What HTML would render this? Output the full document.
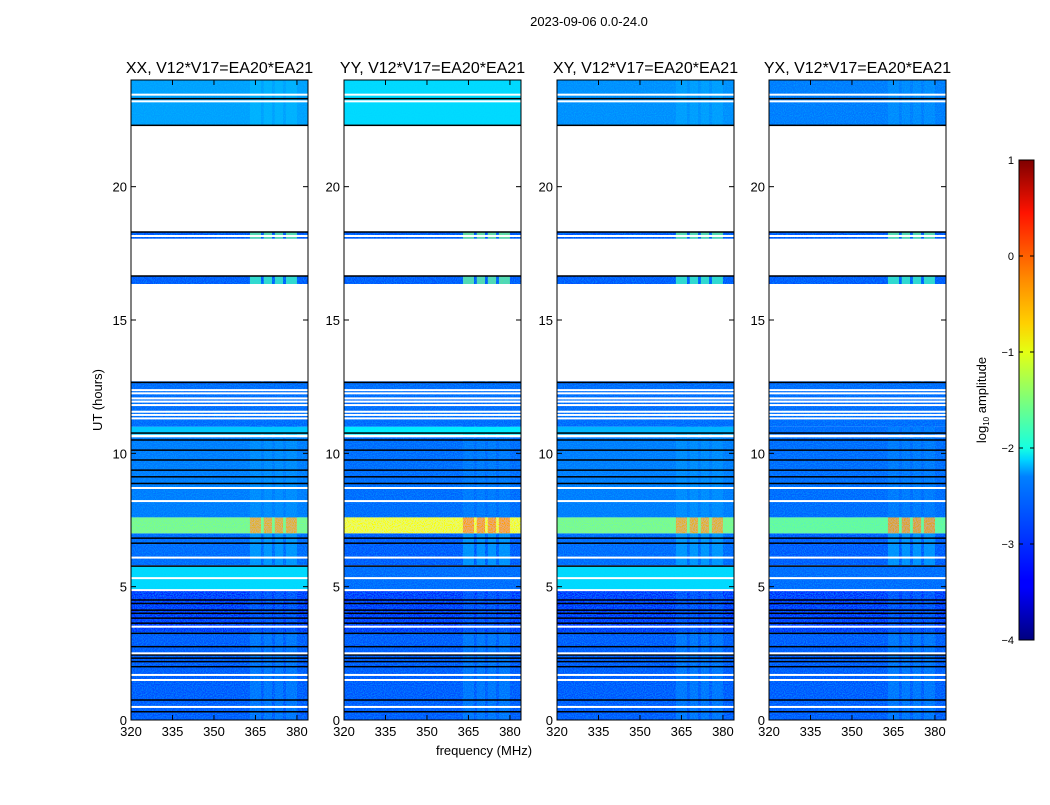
<!DOCTYPE html>
<html><head><meta charset="utf-8"><style>
body{margin:0;background:#fff;}
svg text{font-family:"Liberation Sans","DejaVu Sans",sans-serif;fill:#000;}
</style></head><body>
<svg id="fig" width="1050" height="800" xmlns="http://www.w3.org/2000/svg">
<defs>
<linearGradient id="jet" x1="0" y1="1" x2="0" y2="0">
<stop offset="0" stop-color="#00007f"/><stop offset="0.11" stop-color="#0000ff"/><stop offset="0.125" stop-color="#0000ff"/>
<stop offset="0.34" stop-color="#0080ff"/><stop offset="0.375" stop-color="#00d4ff"/><stop offset="0.4" stop-color="#16ffe1"/>
<stop offset="0.5" stop-color="#7dff7a"/><stop offset="0.6" stop-color="#e4ff13"/><stop offset="0.66" stop-color="#ffd000"/>
<stop offset="0.75" stop-color="#ff8c00"/><stop offset="0.89" stop-color="#ff1300"/><stop offset="1" stop-color="#7f0000"/>
</linearGradient>
<filter id="noise" x="0" y="0" width="100%" height="100%">
<feTurbulence type="fractalNoise" baseFrequency="0.9" numOctaves="1" seed="3" result="t"/>
<feColorMatrix in="t" type="matrix" values="0 0 0 0 0  0 0 0 0 0.6  0 0 0 0 1  0 0 0 0.9 -0.35" result="n"/>
<feComposite in="n" in2="SourceGraphic" operator="in" result="m"/>
<feMerge><feMergeNode in="SourceGraphic"/><feMergeNode in="m"/></feMerge>
</filter>
</defs>
<text x="589" y="26" font-size="13" text-anchor="middle">2023-09-06 0.0-24.0</text>
<text x="484" y="755" font-size="13" text-anchor="middle">frequency (MHz)</text>
<text transform="translate(102,400) rotate(-90)" font-size="13" text-anchor="middle">UT (hours)</text>
<g id="panels"></g>
<g id="cbar"></g>
</svg>
<script>
// ---- data ----
const panelTitles = ["XX, V12*V17=EA20*EA21","YY, V12*V17=EA20*EA21","XY, V12*V17=EA20*EA21","YX, V12*V17=EA20*EA21"];
const segStart = [0, 3.3, 4.9, 5.8, 7.0, 7.6, 10.7, 11.0, 16.35, 18.05, 22.3];
const segEnd   = [3.3, 4.9, 5.75, 7.0, 7.6, 10.6, 11.0, 12.7, 16.65, 18.3, 24];
const levelsXX = [-3.0, -3.2, -2.3, -2.9, -1.5, -2.8, -2.4, -2.9, -3.0, -3.0, -2.6];
const levelsYY = [-3.0, -3.2, -2.9, -3.0, -0.9, -2.9, -2.2, -2.9, -3.0, -3.0, -2.3];
const levelsXY = [-3.0, -3.2, -2.3, -2.9, -1.5, -2.8, -2.5, -2.9, -3.0, -3.0, -2.7];
const levelsYX = [-3.0, -3.2, -2.9, -3.0, -1.6, -2.9, -2.9, -2.9, -3.0, -3.0, -2.8];
const rfiStart = [363, 368, 372, 376];
const rfiEnd   = [367, 371, 375, 380];
const rfiLevelXX = [-2.8, -3.0, -2.3, -2.6, -0.4, -2.7, -2.4, -2.9, -1.8, -1.6, -2.5];
const rfiLevelYY = [-2.8, -3.0, -2.9, -2.6, -0.3, -2.8, -2.2, -2.9, -1.6, -1.5, -2.3];
const rfiLevelXY = [-2.8, -3.0, -2.3, -2.6, -0.4, -2.7, -2.5, -2.9, -1.8, -1.6, -2.6];
const rfiLevelYX = [-2.8, -3.0, -2.9, -2.6, -0.3, -2.8, -2.8, -2.9, -1.8, -1.6, -2.7];
const blackLines = [12.66,10.76,10.5,10.12,9.75,9.37,9.12,8.87,6.82,6.63,5.77,4.5,4.37,4.12,4.0,3.82,3.63,3.25,2.75,2.44,2.32,2.19,2.0,0.75,0.31,23.3,18.3,16.65,22.3];
const whiteLines = [12.37,12.25,12.06,11.94,11.81,11.56,11.44,11.31,8.7,8.21,6.09,5.32,4.87,3.5,2.5,1.69,1.5,0.49,23.2,23.45,18.15];
const xTicks = [320,335,350,365,380];
const yTicks = [0,5,10,15,20];
const cbTicks = [-4,-3,-2,-1,0,1];
// ---- layout ----
const lefts=[131,344,557,769], W=177, T=80, B=720;
const fMin=320, fMax=384, hMin=0, hMax=24;
const NS="http://www.w3.org/2000/svg";
function el(t,a,p){const e=document.createElementNS(NS,t);for(const k in a)e.setAttribute(k,a[k]);p.appendChild(e);return e;}
function jet(v){
  let x=Math.max(0,Math.min(1,(v+4)/5));
  const r=Math.min(4*x-1.5,-4*x+4.5), g=Math.min(4*x-0.5,-4*x+3.5), b=Math.min(4*x+0.5,-4*x+2.5);
  const c=z=>Math.round(255*Math.max(0,Math.min(1,z)));
  return `rgb(${c(r)},${c(g)},${c(b)})`;
}
const levelSets=[levelsXX,levelsYY,levelsXY,levelsYX];
const rfiSets=[rfiLevelXX,rfiLevelYY,rfiLevelXY,rfiLevelYX];
const panels=document.getElementById('panels');
lefts.forEach((L,p)=>{
  const xs=f=>L+(f-fMin)/(fMax-fMin)*W;
  const ys=h=>B-(h-hMin)/(hMax-hMin)*(B-T);
  const g=el('g',{},panels);
  
  
  const img=el('g',{filter:'url(#noise)'},g);
  segStart.forEach((s,i)=>{
    const r=el('rect',{x:L,y:ys(segEnd[i]),width:W,height:ys(s)-ys(segEnd[i]),fill:jet(levelSets[p][i])},img);
    
    
    rfiStart.forEach((f,k)=>{
      const q=el('rect',{x:xs(f),y:ys(segEnd[i]),width:xs(rfiEnd[k])-xs(f),height:ys(s)-ys(segEnd[i]),fill:jet(rfiSets[p][i]),opacity:0.8},img);
      
      
    });
  });
  blackLines.forEach(h=>{const l=el('rect',{x:L,y:ys(h)-0.75,width:W,height:1.5,fill:'#000'},g);
    
    });
  whiteLines.forEach(h=>{const l=el('rect',{x:L,y:ys(h)-1,width:W,height:2,fill:'#fff'},g);
    
    });
  const fr=el('rect',{x:L,y:T,width:W,height:B-T,fill:'none',stroke:'#000','stroke-width':1},g);
  
  
  const tt=el('text',{x:L+W/2,y:T-7,'font-size':16,'text-anchor':'middle'},g);tt.textContent=panelTitles[p];
  
  
  xTicks.forEach(f=>{
    el('line',{x1:xs(f),x2:xs(f),y1:B,y2:B-5,stroke:'#000'},g);
    el('line',{x1:xs(f),x2:xs(f),y1:T,y2:T+5,stroke:'#000'},g);
    const t=el('text',{x:xs(f),y:B+16,'font-size':13,'text-anchor':'middle'},g);t.textContent=f;
    
    
  });
  yTicks.forEach(h=>{
    el('line',{x1:L,x2:L+5,y1:ys(h),y2:ys(h),stroke:'#000'},g);
    el('line',{x1:L+W,x2:L+W-5,y1:ys(h),y2:ys(h),stroke:'#000'},g);
    const t=el('text',{x:L-4,y:ys(h)+5,'font-size':13,'text-anchor':'end'},g);t.textContent=h;
    
    
  });
});
const cb=document.getElementById('cbar');
const cT=160,cB=640,cL=1019,cW=15;
const cy=v=>cB-(v+4)/5*(cB-cT);
el('rect',{x:cL,y:cT,width:cW,height:cB-cT,fill:'url(#jet)',stroke:'#000','stroke-width':1},cb);
cbTicks.forEach(v=>{
  el('line',{x1:cL,x2:cL+4,y1:cy(v),y2:cy(v),stroke:'#000'},cb);
  el('line',{x1:cL+cW,x2:cL+cW-4,y1:cy(v),y2:cy(v),stroke:'#000'},cb);
  const t=el('text',{x:cL-5,y:cy(v)+4,'font-size':11,'text-anchor':'end'},cb);t.textContent=v<0?'\u2212'+(-v):v;
  
  
});
const lab=el('text',{transform:'translate(986,400) rotate(-90)','font-size':13,'text-anchor':'middle'},cb);
lab.innerHTML='log<tspan font-size="8" dy="3">10</tspan><tspan dy="-3"> amplitude</tspan>';


</script>
</body></html>
